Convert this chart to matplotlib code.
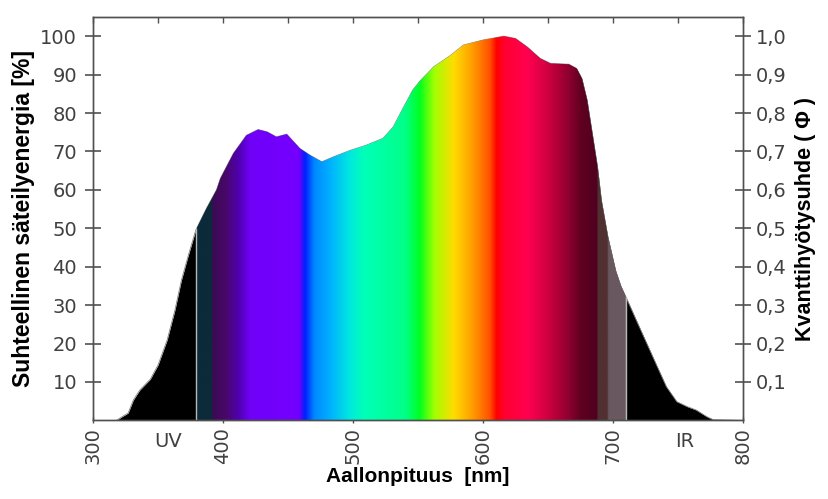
import numpy as np
import matplotlib
matplotlib.use("Agg")
import matplotlib.pyplot as plt
from matplotlib.colors import LinearSegmentedColormap
from matplotlib.patches import Polygon
from matplotlib.ticker import FuncFormatter, MultipleLocator

# spectrum (nm, relative energy %)
wavelength = [300, 318, 322, 327, 331, 336, 344, 350, 357, 363, 368, 373, 379, 387,
              395, 398, 408, 418, 427, 434, 441, 449, 459, 467, 476, 485, 498, 510,
              523, 531, 539, 546, 552, 562, 575, 585, 600, 616, 625, 634, 644, 652,
              666, 672, 676, 680, 684, 688, 691, 696, 702, 706, 711, 718, 726, 734,
              741, 749, 757, 764, 772, 777, 800]
energy = [0, 0, 0.9, 1.9, 5.3, 7.9, 10.7, 14.4, 20.9, 28.7, 36.5, 42.6, 49.5, 55,
          60, 63, 69.5, 74.2, 75.7, 75.1, 73.8, 74.5, 70.8, 69, 67.3, 68.6, 70.3, 71.6,
          73.4, 76.4, 81.6, 86, 88.5, 92, 95, 97.7, 99, 100, 99.4, 97.2, 94.2, 92.9,
          92.7, 91.6, 89, 83.4, 74.7, 66, 57.3, 47.8, 39, 35, 31.3, 26, 20, 14,
          8.8, 4.9, 3.6, 2.7, 1, 0.2, 0]

x_ticks = [300, 400, 500, 600, 700, 800]
left_ticks = [10, 20, 30, 40, 50, 60, 70, 80, 90, 100]
right_ticks = [0.1, 0.2, 0.3, 0.4, 0.5, 0.6, 0.7, 0.8, 0.9, 1.0]
band_labels = ["UV", "IR"]
band_pos = [358, 755]

# visible band colouring
vis_lo, vis_hi = 380, 710
stops = [
    (380, "#0b2a3a"), (391, "#0b2a3a"), (392, "#3a0a52"), (402, "#48086a"),
    (412, "#5000b0"), (421, "#7000f8"), (458, "#7400ff"), (463, "#0020ff"),
    (470, "#0088ff"), (482, "#00b0ff"), (497, "#00e8e0"), (508, "#00ffb8"),
    (540, "#00ff88"), (551, "#00ff20"), (562, "#a0ff00"), (577, "#ffdd00"),
    (592, "#ff9a00"), (605, "#ff5000"), (610, "#ff0000"), (616, "#ff0030"),
    (634, "#ff0050"), (649, "#d00040"), (665, "#900030"), (675, "#600020"),
    (687, "#500020"), (688, "#503030"), (695, "#503030"), (696, "#6a5860"),
    (709, "#6a5860"), (710, "#b0a8ac"),
]
cmap = LinearSegmentedColormap.from_list(
    "spec", [((w - vis_lo) / (vis_hi - vis_lo), c) for w, c in stops], N=1024)

fig = plt.figure(figsize=(8.29, 4.99), dpi=100)
ax = fig.add_axes([0.1122, 0.1575, 0.7841, 0.8085])

wl = np.array(wavelength)
en = np.array(energy)
ax.fill_between(wl, en, color="black", lw=0)
ax.plot(wl, en, color="#808080", lw=0.6)

verts = np.column_stack([np.r_[wl, wl[::-1]], np.r_[en, np.zeros_like(en)]])
clip = Polygon(verts, closed=True, transform=ax.transData, facecolor="none", edgecolor="none")
ax.add_patch(clip)
grad = np.linspace(0, 1, 1024)[None, :]
im = ax.imshow(grad, cmap=cmap, aspect="auto", extent=[vis_lo, vis_hi, 0, 105],
               interpolation="bilinear", zorder=2)
im.set_clip_path(clip)
for edge in (vis_lo - 0.5, vis_hi):
    y_edge = np.interp(edge, wl, en)
    ax.plot([edge, edge], [0, y_edge], color="#b8b8b8", lw=1, zorder=3)

ax.set_xlim(300, 800)
ax.set_ylim(0, 105)
ax.set_xticks(x_ticks)
ax.set_xticklabels([str(t) for t in x_ticks], rotation=90, fontsize=14, color="#404040")
ax.set_yticks(left_ticks)
ax.set_yticklabels([str(t) for t in left_ticks], fontsize=14, color="#404040")
ax.tick_params(axis="y", direction="inout", length=11, width=1.2, color="#505050", pad=6)
ax.tick_params(axis="x", direction="inout", length=4, width=1, color="#505050", pad=3)

top = ax.secondary_xaxis("top")
top.xaxis.set_major_locator(MultipleLocator(50))
top.tick_params(direction="in", length=4, width=1, color="#505050", labeltop=False)
top.spines["top"].set_visible(False)

ax2 = ax.twinx()
ax2.set_ylim(0, 1.05)
ax2.set_yticks(right_ticks)
ax2.yaxis.set_major_formatter(FuncFormatter(lambda v, p: f"{v:.1f}".replace(".", ",")))
ax2.tick_params(axis="y", direction="inout", length=11, width=1.2, color="#505050",
                labelsize=14, labelcolor="#404040", pad=4)

for a in (ax, ax2):
    for s in a.spines.values():
        s.set_color("#505050")
        s.set_linewidth(1)

for lab, pos in zip(band_labels, band_pos):
    ax.text(pos, -3, lab, ha="center", va="top", fontsize=14, color="#404040")

ax.set_xlabel("Aallonpituus  [nm]", labelpad=2, family="Liberation Sans",
              fontweight="bold", fontsize=15)
ax.set_ylabel("Suhteellinen säteilyenergia [%]", labelpad=4, family="Liberation Sans",
              fontweight="bold", fontsize=16.5)
ax2.set_ylabel("Kvanttihyötysuhde ( Φ )", labelpad=6, family="Liberation Sans",
               fontweight="bold", fontsize=15.5)

fig.savefig("out.png", dpi=100)
